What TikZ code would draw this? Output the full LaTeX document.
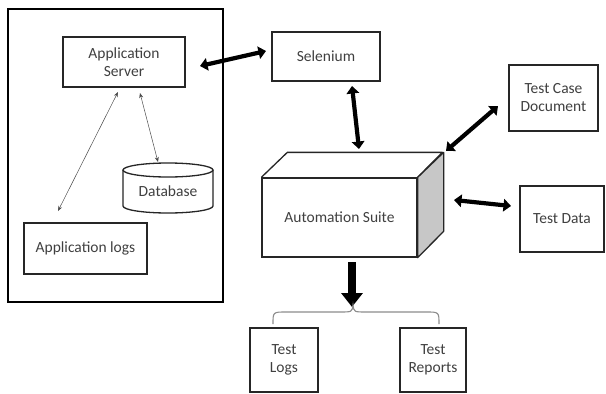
\documentclass[tikz,border=0pt]{standalone}
\usepackage{fontspec}
\setmainfont{Carlito}
\usetikzlibrary{arrows.meta}
\definecolor{txt}{HTML}{404040}
\tikzset{
  box/.style={draw=black!85, line width=1.3pt, rectangle, align=center, text=txt, inner sep=0pt, font=\fontsize{15.5}{18}\selectfont},
  bigarrow/.style={line width=4.2pt, {Triangle[length=7.5pt,width=12.5pt]}-{Triangle[length=7.5pt,width=12.5pt]}},
  thinarrow/.style={line width=0.5pt, draw=black!70, {Stealth[length=5pt,width=4pt]}-{Stealth[length=5pt,width=4pt]}},
}
\begin{document}
\begin{tikzpicture}[x=1pt,y=-1pt]
\useasboundingbox (0,0) rectangle (606,394);
\fill[white] (0,0) rectangle (606,394);
% outer frame
\node[draw=black, line width=1.4pt, minimum width=215pt, minimum height=293pt, inner sep=0pt] (frame) at (115.5,155.5) {};
% boxes
\node[box, minimum width=122pt, minimum height=50pt] (server) at (124,62) {Application\\Server};
\node[box, minimum width=123pt, minimum height=51pt] (logs) at (85.5,248.5) {Application logs};
\node[box, minimum width=108pt, minimum height=49pt] (selenium) at (326,56.5) {Selenium};
\node[box, minimum width=89pt, minimum height=66pt] (tcd) at (553.5,98) {Test Case\\Document};
\node[box, minimum width=84pt, minimum height=66pt] (tdata) at (562,219) {Test Data};
\node[box, minimum width=68pt, minimum height=64pt] (tlogs) at (284,360) {Test\\Logs};
\node[box, minimum width=66pt, minimum height=64pt] (trep) at (433,360) {Test\\Reports};
% database cylinder
\draw[black!85, line width=1.3pt, fill=white] (123,170) -- (123,206) arc[start angle=180, end angle=360, x radius=45pt, y radius=7pt] -- (213,170);
\draw[black!85, line width=1.3pt, fill=white] (168,170) ellipse[x radius=45pt, y radius=7pt];
\node[text=txt, font=\fontsize{15.5}{18}\selectfont] (db) at (168,191) {Database};
% automation suite cube
\node[box, minimum width=155pt, minimum height=79pt] (suite) at (339.5,217.5) {Automation Suite};
\draw[black!85, line width=1.3pt, line join=round] (suite.north west) -- ++(26,-25) -- ++(155,0) -- (suite.north east);
\draw[black!85, line width=1.3pt, fill=black!22, line join=round] (suite.north east) -- ++(26,-25) -- ++(0,79) -- (suite.south east) -- cycle;
% arrow end points
\coordinate (a1) at (200,66); \coordinate (a2) at (266,51);
\coordinate (b1) at (352,86); \coordinate (b2) at (359,149);
\coordinate (c1) at (498,106); \coordinate (c2) at (446,151);
\coordinate (d1) at (454,200); \coordinate (d2) at (511,206);
\coordinate (e1) at (58,211); \coordinate (e2) at (118,92);
\coordinate (f1) at (140,93); \coordinate (f2) at (158,162);
\coordinate (g1) at (352,262); \coordinate (g2) at (352,307);
\draw[bigarrow] (a1) -- (a2);
\draw[bigarrow] (b1) -- (b2);
\draw[bigarrow] (c1) -- (c2);
\draw[bigarrow] (d1) -- (d2);
\draw[thinarrow] (e1) -- (e2);
\draw[thinarrow] (f1) -- (f2);
\draw[line width=8.5pt, -{Triangle[length=14pt,width=21pt]}] (g1) -- (g2);
% brace
\draw[black!45, line width=1.1pt] (273,324) .. controls (273,312) .. (286,312) -- (340,312) .. controls (352,312) .. (353,305) .. controls (354,312) .. (366,312) -- (426,312) .. controls (439,312) .. (439,324);
\end{tikzpicture}
\end{document}
